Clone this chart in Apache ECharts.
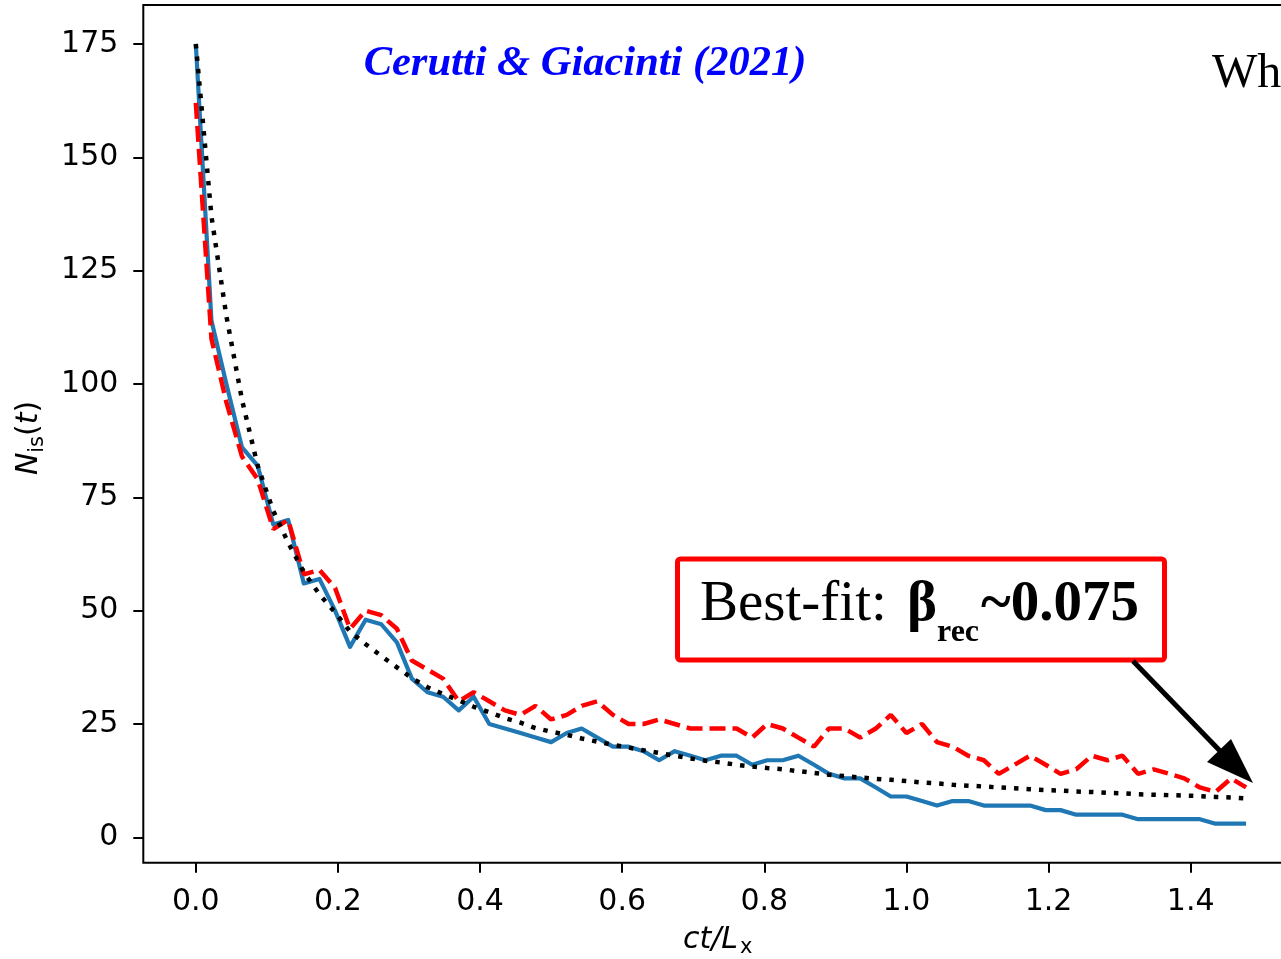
<!DOCTYPE html>
<html>
<head>
<meta charset="utf-8">
<script src="https://cdn.jsdelivr.net/npm/echarts@6/dist/echarts.min.js"></script>
<style>
  html, body { margin: 0; padding: 0; background: #fff; }
  #main { width: 1281px; height: 959px; }
</style>
</head>
<body>
<div id="main"></div>
<script>
// ct/Lx sample points
var times = [0, 0.022, 0.043, 0.065, 0.087, 0.109, 0.130, 0.152, 0.174, 0.196,
  0.217, 0.239, 0.261, 0.283, 0.304, 0.326, 0.348, 0.370, 0.391, 0.413,
  0.435, 0.457, 0.478, 0.500, 0.522, 0.543, 0.565, 0.587, 0.609, 0.630,
  0.652, 0.674, 0.696, 0.717, 0.739, 0.761, 0.783, 0.804, 0.826, 0.848,
  0.870, 0.891, 0.913, 0.935, 0.957, 0.978, 1.000, 1.022, 1.043, 1.065,
  1.087, 1.109, 1.130, 1.152, 1.174, 1.196, 1.217, 1.239, 1.261, 1.283,
  1.304, 1.326, 1.348, 1.370, 1.391, 1.413, 1.435, 1.457, 1.478];

// blue solid curve
var blueVals = [175, 114, 100, 86, 82, 69, 70, 56, 57, 50,
  42, 48, 47, 43, 35, 32, 31, 28, 31, 25,
  24, 23, 22, 21, 23, 24, 22, 20, 20, 19,
  17, 19, 18, 17, 18, 18, 16, 17, 17, 18,
  16, 14, 13, 13, 11, 9, 9, 8, 7, 8,
  8, 7, 7, 7, 7, 6, 6, 5, 5, 5,
  5, 4, 4, 4, 4, 4, 3, 3, 3];

// red dashed curve
var redVals = [162, 110, 96, 84, 79, 68, 70, 58, 59, 55,
  46, 50, 49, 46, 39, 37, 35, 30, 32, 30,
  28, 27, 29, 26, 27, 29, 30, 27, 25, 25,
  26, 25, 24, 24, 24, 24, 22, 25, 24, 22,
  20, 24, 24, 22, 24, 27, 23, 25, 21, 20,
  18, 17, 14, 16, 18, 16, 14, 15, 18, 17,
  18, 14, 15, 14, 13, 11, 10, 13, 11];

// black dotted best-fit
var fitVals = [175, 137, 115, 96.5, 82, 72, 65, 58.5, 53.6, 49.6,
  45.4, 42.6, 40, 37.5, 35.1, 33.1, 31.6, 30.2, 28.8, 27.6,
  26.3, 25.3, 24.1, 23.3, 22.6, 21.8, 21.1, 20.4, 19.8, 19.2,
  18.6, 18.0, 17.4, 16.9, 16.5, 16.0, 15.6, 15.3, 15.0, 14.6,
  14.2, 13.8, 13.5, 13.2, 12.9, 12.7, 12.4, 12.1, 11.9, 11.6,
  11.4, 11.2, 11.0, 10.8, 10.6, 10.4, 10.3, 10.1, 10.0, 9.8,
  9.7, 9.5, 9.4, 9.3, 9.2, 9.1, 8.9, 8.8, 8.6];

var xTicks = [0, 0.2, 0.4, 0.6, 0.8, 1.0, 1.2, 1.4];
var yTicks = [0, 25, 50, 75, 100, 125, 150, 175];

function pairs(ys) {
  var out = [];
  for (var i = 0; i < times.length; i++) {
    out.push([times[i], ys[i]]);
  }
  return out;
}

// one piece of text, em-middle placed at (x, y)
function txt(s, x, y, font, extra) {
  var el = {
    type: 'text', x: x, y: y, z: 30,
    style: { text: s, font: font, fill: '#000', align: 'left', verticalAlign: 'middle' }
  };
  if (extra) {
    for (var k in extra) el.style[k] = extra[k];
  }
  return el;
}

var myChart = echarts.init(document.getElementById('main'));

var dejavu = '"DejaVu Sans"';
var serif = '"Liberation Serif"';

var option = {
  animation: false,
  backgroundColor: '#fff',
  grid: {
    left: 143.3,
    top: 5,
    width: 1155.5,
    height: 857.7,
    show: true,
    borderColor: '#000',
    borderWidth: 2,
    containLabel: false,
    outerBoundsMode: 'none'
  },
  xAxis: {
    type: 'value',
    position: 'bottom',
    min: -0.0739,
    max: 1.5522,
    axisLine: { show: false, onZero: false },
    splitLine: { show: false },
    axisTick: {
      show: true,
      length: 10,
      customValues: xTicks,
      lineStyle: { color: '#000', width: 2 }
    },
    axisLabel: {
      customValues: xTicks,
      formatter: function (v) { return v.toFixed(1); },
      fontFamily: 'DejaVu Sans',
      fontSize: 30,
      color: '#000',
      margin: 25
    }
  },
  yAxis: {
    type: 'value',
    position: 'left',
    min: -5.6,
    max: 183.6,
    axisLine: { show: false, onZero: false },
    splitLine: { show: false },
    axisTick: {
      show: true,
      length: 10,
      customValues: yTicks,
      lineStyle: { color: '#000', width: 2 }
    },
    axisLabel: {
      customValues: yTicks,
      fontFamily: 'DejaVu Sans',
      fontSize: 30,
      color: '#000',
      margin: 25,
      padding: [5, 0, 0, 0]
    }
  },
  series: [
    {
      type: 'line',
      data: pairs(blueVals),
      showSymbol: false,
      z: 2,
      lineStyle: { color: '#1f77b4', width: 4.2, join: 'round' }
    },
    {
      type: 'line',
      data: pairs(redVals),
      showSymbol: false,
      z: 3,
      lineStyle: { color: '#ff0000', width: 4.5, type: [16, 7] }
    },
    {
      type: 'line',
      data: pairs(fitVals),
      showSymbol: false,
      z: 4,
      lineStyle: { color: '#000', width: 4.5, type: [4.5, 8], cap: 'butt' }
    }
  ],
  graphic: [
    // top label
    {
      type: 'text', x: 585, y: 64, z: 10,
      style: {
        text: 'Cerutti & Giacinti (2021)',
        font: 'italic bold 42.5px ' + serif,
        fill: '#0000ff', align: 'center', verticalAlign: 'middle'
      }
    },
    // cut text top right
    txt('Wh', 1212, 74, '48px ' + serif),
    // y name, rotated group
    {
      type: 'group', x: 29.3, y: 436.5, rotation: Math.PI / 2,
      children: [
        txt('N', -38.5, 0, 'italic 30px ' + dejavu),
        txt('is', -16.3, 8, '21px ' + dejavu),
        txt('(', 0.5, 0, '30px ' + dejavu),
        txt('t', 12.2, 0, 'italic 30px ' + dejavu),
        txt(')', 24, 0, '30px ' + dejavu)
      ]
    },
    // x name
    txt('ct/L', 683, 940, 'italic 30px ' + dejavu),
    txt('x', 740, 948, '21px ' + dejavu),
    // annotation box
    {
      type: 'rect', z: 20,
      shape: { x: 677.5, y: 559, width: 487, height: 101, r: 3 },
      style: { fill: '#fff', stroke: '#ff0000', lineWidth: 5 }
    },
    txt('Best-fit:', 700, 605, '57px ' + serif),
    txt('β', 907, 605, 'bold 57px ' + serif),
    txt('rec', 937, 633, 'bold 32px ' + serif),
    txt('~0.075', 981, 605, 'bold 57px ' + serif),
    // arrow
    {
      type: 'line', z: 20,
      shape: { x1: 1133, y1: 661, x2: 1222, y2: 753 },
      style: { stroke: '#000', lineWidth: 5 }
    },
    {
      type: 'polygon', z: 20,
      shape: { points: [[1253, 783], [1207, 762], [1231, 739]] },
      style: { fill: '#000' }
    }
  ]
};

myChart.setOption(option);
</script>
</body>
</html>
